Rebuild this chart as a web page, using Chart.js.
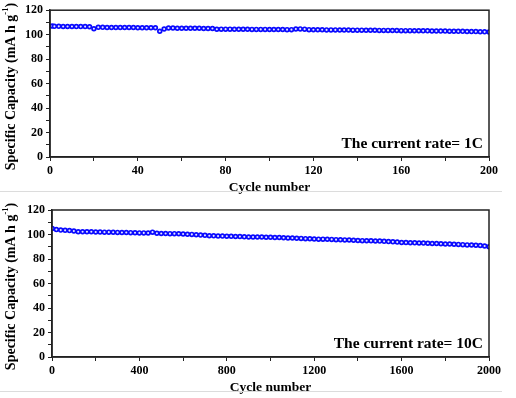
<!DOCTYPE html>
<html>
<head>
<meta charset="utf-8">
<script src="https://cdn.jsdelivr.net/npm/chart.js@4.4.0/dist/chart.umd.min.js"></script>
<style>
  body { margin: 0; background: #fff; width: 516px; height: 398px; overflow: hidden; position: relative; }
  .wrap { position: absolute; left: 0; width: 516px; }
  #wrapTop { top: 0; height: 198px; }
  #wrapBot { top: 198px; height: 200px; }
  .sep { position: absolute; left: 0; width: 502px; height: 1px; background: #dcdcdc; z-index: 2; }
</style>
</head>
<body>
<div class="wrap" id="wrapTop"><canvas id="chartTop"></canvas></div>
<div class="wrap" id="wrapBot"><canvas id="chartBot"></canvas></div>
<div class="sep" style="top:191px"></div>
<div class="sep" style="top:391px"></div>
<script>
// 1C test, 200 cycles
const cycles1C = [1, 2, 4, 6, 8, 10, 12, 14, 16, 18, 20, 22, 24, 26, 28, 30, 32, 34, 36, 38, 40,
  42, 44, 46, 48, 50, 52, 54, 56, 58, 60, 62, 64, 66, 68, 70, 72, 74, 76, 78, 80,
  82, 84, 86, 88, 90, 92, 94, 96, 98, 100, 102, 104, 106, 108, 110, 112, 114, 116, 118, 120,
  122, 124, 126, 128, 130, 132, 134, 136, 138, 140, 142, 144, 146, 148, 150, 152, 154, 156, 158, 160,
  162, 164, 166, 168, 170, 172, 174, 176, 178, 180, 182, 184, 186, 188, 190, 192, 194, 196, 198, 200];
const capacity1C = [107.0, 106.8, 106.8, 106.7, 106.7, 106.7, 106.6, 106.6, 106.6, 106.5, 104.8,
  106.0, 106.0, 105.9, 105.9, 105.9, 105.8, 105.8, 105.8, 105.8, 105.7, 105.7, 105.7, 105.6, 105.6,
  102.8, 104.6,
  105.4, 105.4, 105.3, 105.3, 105.3, 105.2, 105.2, 105.2, 105.1, 105.1, 105.1,
  104.4, 104.5, 104.5, 104.5, 104.4, 104.4, 104.4, 104.4, 104.3, 104.3, 104.3, 104.3, 104.2, 104.2, 104.2, 104.2, 104.1, 104.1,
  104.6, 104.7, 104.5,
  104.1, 104.0, 104.0, 104.0, 103.9, 103.9, 103.9, 103.8, 103.8, 103.8,
  103.7, 103.7, 103.7, 103.6, 103.6, 103.6, 103.5, 103.5, 103.5, 103.4,
  103.4, 103.3, 103.3, 103.3, 103.2, 103.2, 103.1, 103.1, 103.0, 103.0,
  102.9, 102.9, 102.8, 102.8, 102.7, 102.7, 102.6, 102.5, 102.5, 102.4,
  102.3, 102.1];

// 10C test, 2000 cycles
const cycles10C = [1, 20, 40, 60, 80, 100, 120, 140, 160, 180, 200, 220, 240, 260, 280, 300, 320, 340, 360, 380, 400,
  420, 440, 460, 480, 500, 520, 540, 560, 580, 600, 620, 640, 660, 680, 700, 720, 740, 760, 780, 800,
  820, 840, 860, 880, 900, 920, 940, 960, 980, 1000, 1020, 1040, 1060, 1080, 1100, 1120, 1140, 1160, 1180, 1200,
  1220, 1240, 1260, 1280, 1300, 1320, 1340, 1360, 1380, 1400, 1420, 1440, 1460, 1480, 1500, 1520, 1540, 1560, 1580, 1600,
  1620, 1640, 1660, 1680, 1700, 1720, 1740, 1760, 1780, 1800, 1820, 1840, 1860, 1880, 1900, 1920, 1940, 1960, 1980, 2000];
const capacity10C = [105.0, 104.0, 103.6, 103.4, 103.2, 102.9, 102.2, 102.3, 102.3, 102.2, 102.1,
  102.0, 101.9, 101.9, 101.8, 101.7, 101.6, 101.6, 101.5, 101.4, 101.3,
  101.3, 101.2, 101.9, 101.0, 100.8, 100.8, 100.7, 100.7, 100.6, 100.4,
  100.2, 100.1, 99.8, 99.5, 99.3, 99.0, 98.9, 98.7, 98.7, 98.6,
  98.5, 98.4, 98.3, 98.1, 98.0, 98.0, 97.9, 97.9, 97.8, 97.7,
  97.6, 97.5, 97.4, 97.2, 97.1, 96.9, 96.8, 96.6, 96.5, 96.3,
  96.2, 96.2, 96.1, 96.0, 95.8, 95.7, 95.6, 95.5, 95.3, 95.1,
  95.0, 94.9, 94.8, 94.7, 94.6, 94.4, 94.2, 94.0, 93.8, 93.5,
  93.4, 93.3, 93.2, 93.1, 93.0, 92.9, 92.7, 92.6, 92.4, 92.3,
  92.2, 92.0, 91.9, 91.7, 91.5, 91.4, 91.2, 91.0, 90.6, 89.9];

const yTicks = [0, 20, 40, 60, 80, 100, 120];
const xTicks1C = [0, 40, 80, 120, 160, 200];
const xTicks10C = [0, 400, 800, 1200, 1600, 2000];

const serif = "'Liberation Serif', 'Times New Roman', serif";
const blue = '#0a0aff';

// frame, axis titles and rate label
const decorPlugin = {
  id: 'decor',
  afterDraw(chart, args, opts) {
    const ctx = chart.ctx;
    const a = chart.chartArea;
    ctx.save();
    ctx.strokeStyle = '#222';
    ctx.lineWidth = 1.5;
    ctx.strokeRect(a.left, a.top, a.right - a.left, a.bottom - a.top);

    ctx.fillStyle = '#000';
    ctx.font = 'bold 15.5px ' + serif;
    ctx.textAlign = 'right';
    ctx.textBaseline = 'middle';
    ctx.fillText(opts.rate, a.right - 6, a.bottom - opts.rateOffset);

    ctx.font = 'bold 13.5px ' + serif;
    ctx.textAlign = 'center';
    ctx.fillText('Cycle number', (a.left + a.right) / 2, opts.xTitleY);

    // y title with superscript
    const main = 'Specific Capacity (mA h g';
    const sup = '-1';
    const end = ')';
    ctx.translate(opts.yTitleX, (a.top + a.bottom) / 2 + 3);
    ctx.rotate(-Math.PI / 2);
    ctx.font = 'bold 14px ' + serif;
    const w1 = ctx.measureText(main).width;
    const w3 = ctx.measureText(end).width;
    ctx.font = 'bold 8.5px ' + serif;
    const w2 = ctx.measureText(sup).width;
    let x = -(w1 + w2 + w3) / 2;
    ctx.textAlign = 'left';
    ctx.font = 'bold 14px ' + serif;
    ctx.fillText(main, x, 0);
    x += w1;
    ctx.font = 'bold 8.5px ' + serif;
    ctx.fillText(sup, x, -5);
    x += w2;
    ctx.font = 'bold 14px ' + serif;
    ctx.fillText(end, x, 0);
    ctx.restore();
  }
};

function makeChart(id, cycles, capacity, xTicks, xStep, area, rate, canvasH) {
  const points = cycles.map((c, i) => ({ x: c, y: capacity[i] }));
  const xMax = xTicks[xTicks.length - 1];
  const xLabelStep = xTicks[1] - xTicks[0];
  return new Chart(document.getElementById(id), {
    type: 'scatter',
    data: {
      datasets: [{
        data: points,
        showLine: false,
        pointStyle: 'circle',
        pointRadius: 1.9,
        pointBorderWidth: 1.7,
        pointBorderColor: blue,
        pointBackgroundColor: '#e6e6ff'
      }]
    },
    options: {
      responsive: true,
      maintainAspectRatio: false,
      animation: false,
      layout: { padding: { left: 0, top: area.top, right: 516 - area.right, bottom: 0 } },
      plugins: {
        legend: { display: false },
        tooltip: { enabled: false },
        decor: { rate: rate, rateOffset: 13, xTitleY: area.bottom + 31, yTitleX: 11 }
      },
      scales: {
        x: {
          type: 'linear',
          min: 0,
          max: xMax,
          afterFit: s => { s.height = canvasH - area.bottom; },
          border: { color: '#222', width: 1.5 },
          grid: { drawOnChartArea: false, drawTicks: true, tickLength: 4, tickColor: '#222' },
          ticks: {
            stepSize: xStep,
            autoSkip: false,
            maxRotation: 0,
            padding: 3,
            color: '#000',
            font: { family: serif, size: 12, weight: 'bold' },
            callback: v => (v % xLabelStep === 0 ? String(v) : '')
          }
        },
        y: {
          min: yTicks[0],
          max: yTicks[yTicks.length - 1],
          afterFit: s => { s.width = area.left; },
          border: { color: '#222', width: 1.5 },
          grid: { drawOnChartArea: false, drawTicks: true, tickLength: 4, tickColor: '#222' },
          ticks: {
            stepSize: 10,
            autoSkip: false,
            padding: 3,
            color: '#000',
            font: { family: serif, size: 12, weight: 'bold' },
            callback: v => (yTicks.includes(v) ? String(v) : '')
          }
        }
      }
    },
    plugins: [decorPlugin]
  });
}

makeChart('chartTop', cycles1C, capacity1C, xTicks1C, 20,
  { left: 50, top: 8, right: 489, bottom: 157 }, 'The current rate= 1C', 198);
makeChart('chartBot', cycles10C, capacity10C, xTicks10C, 200,
  { left: 52, top: 12, right: 489, bottom: 159 }, 'The current rate= 10C', 200);
</script>
</body>
</html>
